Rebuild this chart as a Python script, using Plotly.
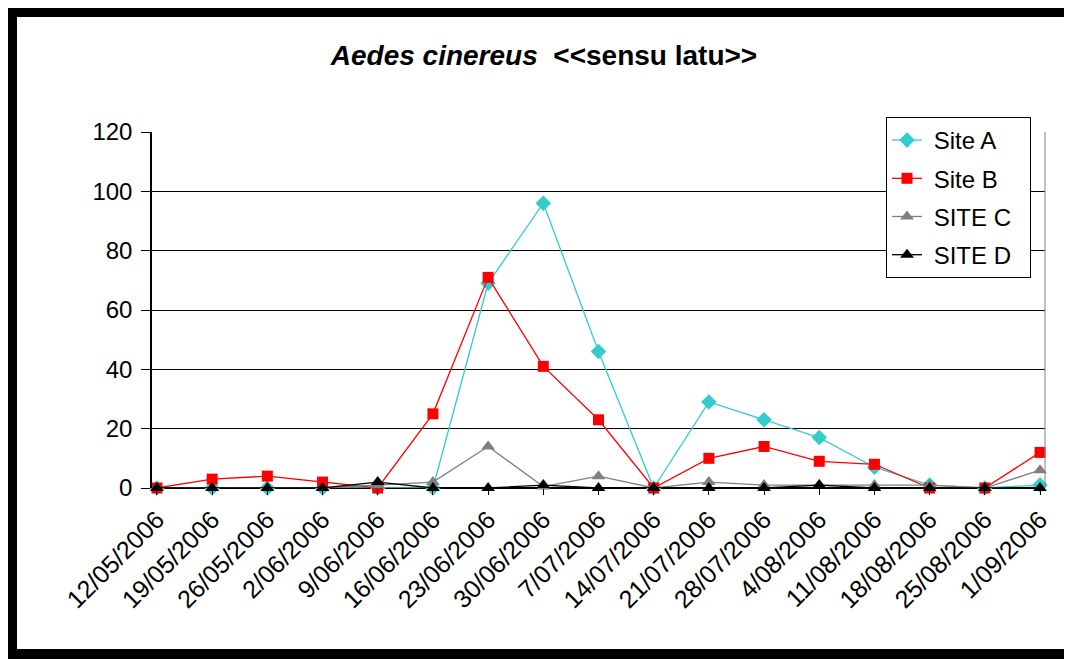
import plotly.graph_objects as go

dates = ["12/05/2006", "19/05/2006", "26/05/2006", "2/06/2006", "9/06/2006",
         "16/06/2006", "23/06/2006", "30/06/2006", "7/07/2006", "14/07/2006",
         "21/07/2006", "28/07/2006", "4/08/2006", "11/08/2006", "18/08/2006",
         "25/08/2006", "1/09/2006"]
site_a = [0, 0, 0, 0, 0, 0, 69, 96, 46, 0, 29, 23, 17, 7, 1, 0, 1]
site_b = [0, 3, 4, 2, 0, 25, 71, 41, 23, 0, 10, 14, 9, 8, 0, 0, 12]
site_c = [0, 0, 0, 0, 1, 2, 14, 0.5, 4, 0, 2, 1, 1, 1, 1, 0, 6]
site_d = [0, 0, 0, 0, 2, 0, 0, 1, 0, 0, 0, 0, 1, 0, 0, 0, 0]
y_ticks = [0, 20, 40, 60, 80, 100, 120]

OFF = 8  # page body margin
W, H = 1072 - OFF, 659 - OFF
L, R, T, B = 152 - OFF, 1045 - OFF, 132 - OFF, 488 - OFF   # plot area pixel box

xs = list(range(len(dates)))

fig = go.Figure()
series = [
    ("Site A", site_a, "#33CCCC", "diamond", 12),
    ("Site B", site_b, "#FF0000", "square", 11),
    ("SITE C", site_c, "#808080", "triangle-up", 12),
    ("SITE D", site_d, "#000000", "triangle-up", 12),
]
for name, vals, col, sym, sz in series:
    fig.add_trace(go.Scatter(
        x=xs, y=vals, name="&nbsp;" + name + "&nbsp;&nbsp;", mode="lines+markers",
        line=dict(color=col, width=1.3),
        marker=dict(symbol=sym, size=sz, color=col),
        cliponaxis=False, legendgroup=name,
    ))


def px_x(p):
    return (p - OFF - L) / (R - L)


def px_y(p):
    return (B - (p - OFF)) / (B - T)


shapes = []


def rect(x0, y0, x1, y1, color):
    shapes.append(dict(type="rect", xref="paper", yref="paper",
                       x0=px_x(x0), x1=px_x(x1), y0=px_y(y1), y1=px_y(y0),
                       fillcolor=color, line=dict(width=0), layer="above"))


# outer frame (page pixel coordinates)
rect(0, 0, 1072, 17, "black")
rect(0, 0, 17, 659, "black")
rect(0, 649, 1072, 659, "black")
rect(1069, 17, 1071, 649, "#BBBBBB")
# plot area right border
shapes.append(dict(type="line", xref="paper", yref="paper", x0=1, x1=1, y0=0, y1=1,
                   line=dict(color="#808080", width=1)))

fig.update_layout(
    width=W, height=H,
    margin=dict(l=L, r=W - R, t=T, b=H - B),
    paper_bgcolor="white", plot_bgcolor="white",
    font=dict(family="Arial, Liberation Sans, sans-serif", color="black", size=22),
    title=dict(
        text="<b><i>Aedes cinereus</i>  &lt;&lt;sensu latu&gt;&gt;</b>",
        x=(544 - OFF) / W, xref="container", xanchor="center",
        y=1 - (55 - OFF) / H, yref="container", yanchor="middle",
        font=dict(size=28, color="black"),
    ),
    xaxis=dict(
        range=[-0.09, 16.09], tickvals=xs, ticktext=dates, tickangle=-45,
        showgrid=False, zeroline=False, showline=False,
        ticks="outside", ticklen=6, tickcolor="black",
        tickfont=dict(size=25),
    ),
    yaxis=dict(
        range=[0, 120], tickvals=y_ticks, showgrid=True, gridcolor="black", gridwidth=1,
        zeroline=True, zerolinecolor="black", zerolinewidth=1.5,
        showline=True, linecolor="black", linewidth=1.5,
        ticks="outside", ticklen=9, tickcolor="black",
        tickfont=dict(size=24), ticklabelstandoff=4,
    ),
    legend=dict(
        x=px_x(886), y=px_y(117), xanchor="left", yanchor="top",
        bgcolor="white", bordercolor="black", borderwidth=1,
        font=dict(size=24), tracegroupgap=4,
    ),
    shapes=shapes,
)

fig.write_html("out.html")
